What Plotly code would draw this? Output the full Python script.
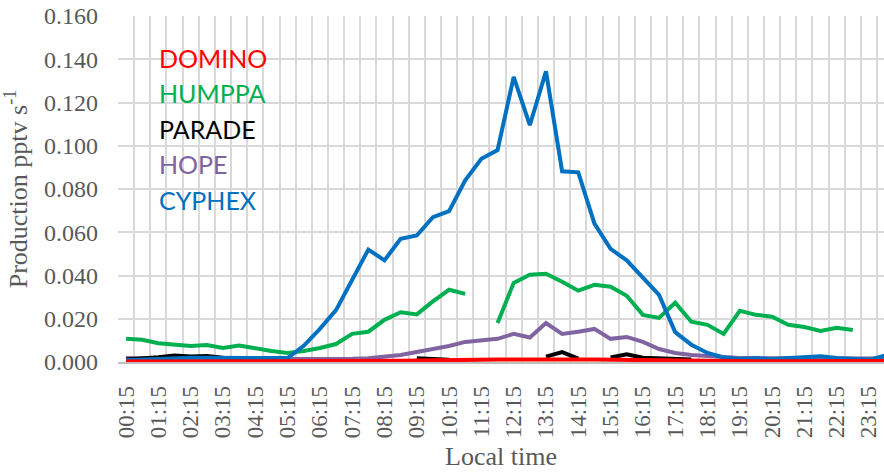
import plotly.graph_objects as go

# Half-hourly local time slots, 00:15 .. 23:45
times = [f"{h:02d}:{m}" for h in range(24) for m in ("15", "45")]

domino = [0.0002, 0.0002, 0.0002, 0.0002, 0.0002, 0.0002, 0.0002, 0.0002,
          0.0002, 0.0002, 0.0002, 0.0003, 0.0003, 0.0004, 0.0004, 0.0005,
          0.0005, 0.0006, 0.0007, 0.0007, 0.0008, 0.0009, 0.0010, 0.0011,
          0.0012, 0.0013, 0.0013, 0.0013, 0.0012, 0.0011, 0.0010, 0.0008,
          0.0007, 0.0006, 0.0005, 0.0005, 0.0004, 0.0004, 0.0004, 0.0004,
          0.0004, 0.0004, 0.0004, 0.0004, 0.0005, 0.0005, 0.0005, 0.0005]

humppa = [0.0107, 0.0103, 0.0087, 0.0079, 0.0074, 0.0079, 0.0065, 0.0076,
          0.0063, 0.0051, 0.0042, 0.0051, 0.0065, 0.0083, 0.0130, 0.0140,
          0.0195, 0.0230, 0.0220, 0.0280, 0.0334, 0.0315, None, 0.0180,
          0.0366, 0.0404, 0.0408, 0.0371, 0.0330, 0.0357, 0.0348, 0.0306,
          0.0218, 0.0204, 0.0274, 0.0186, 0.0172, 0.0130, 0.0237, 0.0218,
          0.0209, 0.0172, 0.0162, 0.0144, 0.0158, 0.0148, None, None]

parade = [0.0012, 0.0015, 0.0022, 0.0030, 0.0025, 0.0028, 0.0020, 0.0018,
          0.0012, 0.0010, None, None, None, None, None, None,
          None, None, 0.0017, 0.0013, 0.0010, None, None, None,
          None, None, 0.0025, 0.0046, 0.0016, None, 0.0021, 0.0036,
          0.0020, 0.0017, 0.0015, 0.0012, None, None, None, None,
          None, None, None, None, None, None, None, None]

hope = [0.0018, 0.0016, 0.0014, 0.0013, 0.0013, 0.0013, 0.0013, 0.0013,
        0.0012, 0.0012, 0.0012, 0.0012, 0.0013, 0.0014, 0.0015, 0.0017,
        0.0025, 0.0032, 0.0046, 0.0060, 0.0074, 0.0093, 0.0099, 0.0107,
        0.0130, 0.0113, 0.0180, 0.0130, 0.0140, 0.0153, 0.0107, 0.0116,
        0.0093, 0.0060, 0.0042, 0.0032, 0.0028, 0.0023, 0.0019, 0.0018,
        0.0018, 0.0018, 0.0018, 0.0017, 0.0017, 0.0017, 0.0016, 0.0016]

cyphex = [0.0008, 0.0012, 0.0016, 0.0020, 0.0020, 0.0020, 0.0019, 0.0018,
          0.0016, 0.0015, 0.0018, 0.0075, 0.0153, 0.0240, 0.0380, 0.0520,
          0.0470, 0.0570, 0.0585, 0.0670, 0.0698, 0.0840, 0.0940, 0.0980,
          0.1318, 0.1095, 0.1344, 0.0882, 0.0877, 0.0640, 0.0523, 0.0470,
          0.0390, 0.0310, 0.0138, 0.0080, 0.0042, 0.0021, 0.0014, 0.0017,
          0.0014, 0.0018, 0.0020, 0.0027, 0.0018, 0.0013, 0.0010, 0.0030]

series = [
    ("HUMPPA", humppa, "#00B050"),
    ("HOPE", hope, "#8064A2"),
    ("PARADE", parade, "#000000"),
    ("CYPHEX", cyphex, "#0070C0"),
    ("DOMINO", domino, "#FF0000"),
]
legend_order = ["DOMINO", "HUMPPA", "PARADE", "HOPE", "CYPHEX"]
colors = {name: col for name, _, col in series}

fig = go.Figure()
for name, vals, col in series:
    fig.add_trace(go.Scatter(
        x=times, y=vals, name=name, mode="lines",
        line=dict(color=col, width=4), connectgaps=False,
        showlegend=False,
    ))

# Coloured text key in the upper-left of the plot
for k, name in enumerate(legend_order):
    fig.add_annotation(
        text=name, xref="paper", yref="paper",
        x=0.051, y=0.879 - k * 0.1025, xanchor="left", yanchor="middle",
        showarrow=False,
        font=dict(family="Lato", size=25, color=colors[name]),
    )

grey = "#595959"
serif = "Liberation Serif, Times New Roman, serif"
fig.update_layout(
    width=884, height=475,
    margin=dict(l=118, r=0, t=16, b=113),
    paper_bgcolor="white", plot_bgcolor="white",
    font=dict(family=serif, color=grey),
    xaxis=dict(
        type="category",
        range=[-0.5, 46.93],
        tickvals=times,
        ticktext=[t if i % 2 == 0 else "" for i, t in enumerate(times)],
        tickson="boundaries",
        tickangle=-90,
        ticks="",
        ticklabelstandoff=13,
        tickfont=dict(family=serif, size=23, color=grey),
        showgrid=True, gridcolor="#D9D9D9", gridwidth=1.8,
        showline=True, linecolor="#BFBFBF", linewidth=1.5,
        title=dict(text="Local time", standoff=9,
                   font=dict(family=serif, size=26, color=grey)),
    ),
    yaxis=dict(
        range=[0, 0.16], dtick=0.02, tickformat=".3f",
        tickfont=dict(family=serif, size=24, color=grey),
        ticklabelstandoff=19,
        showgrid=True, gridcolor="#D9D9D9", gridwidth=1.8,
        zeroline=False,
        title=dict(text="Production pptv s<sup>-1</sup>", standoff=8,
                   font=dict(family=serif, size=26, color=grey)),
    ),
)

fig.write_html("out.html")
